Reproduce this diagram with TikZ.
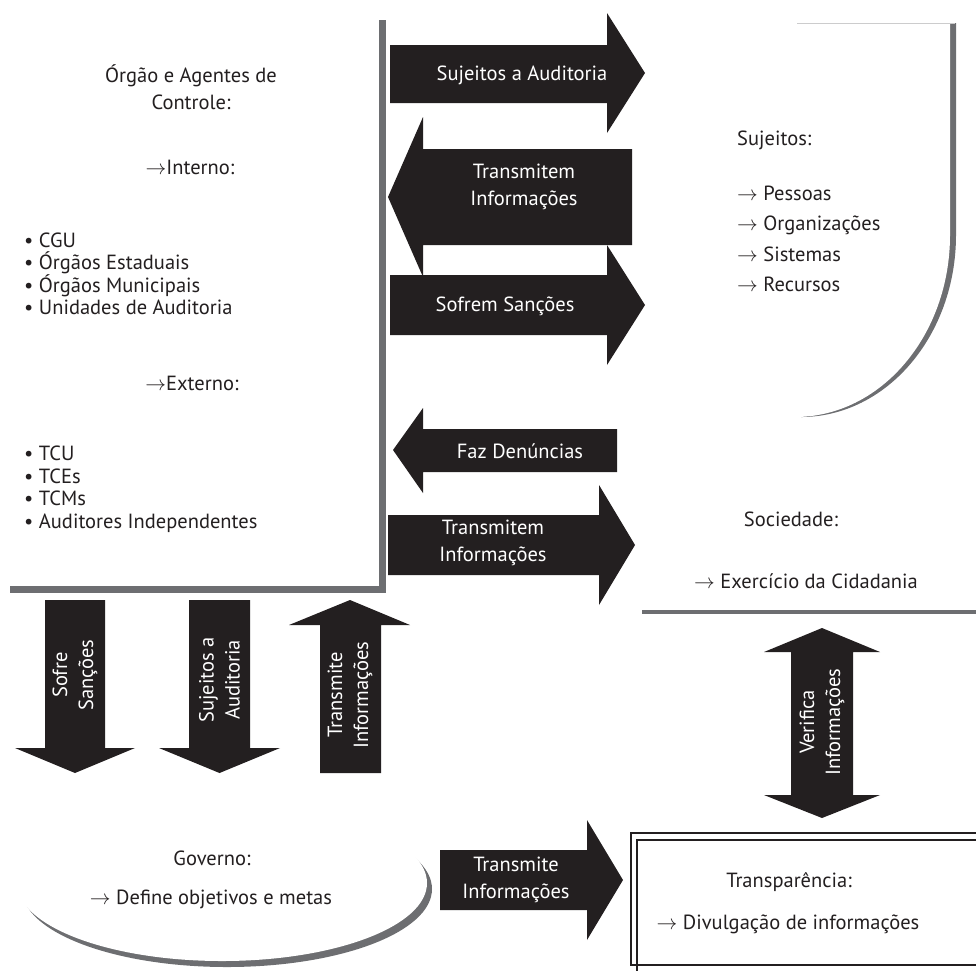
\documentclass[tikz,border=0pt]{standalone}
\usepackage{fontspec}
\setmainfont{PT Sans}
\definecolor{ink}{HTML}{231F20}
\definecolor{shadowgray}{HTML}{6D6E71}
\begin{document}
\begin{tikzpicture}[x=1pt,y=-1pt,
  blockarrow/.style={fill=ink,draw=none},
  arrowtext/.style={text=white,align=center,inner sep=0pt,
    font=\fontsize{20.5}{27}\selectfont},
  vtext/.style={arrowtext,rotate=90,font=\fontsize{20.5}{26}\selectfont},
  bodytext/.style={text=ink,inner sep=0pt,font=\fontsize{20.5}{22.5}\selectfont},
  shadowfill/.style={fill=shadowgray,draw=none}]
\useasboundingbox (0,0) rectangle (976,970);

% ---- control bodies box (white panel with offset shadow)
\fill[shadowfill] (10,20) rectangle (386,593);
\fill[white] (3,13) rectangle (379,586);
\node[bodytext,align=center,font=\fontsize{20.5}{27}\selectfont] (orgao) at (191,87) {Órgão e Agentes de\\Controle:};
\node[bodytext] (interno) at (190,167) {$\rightarrow$Interno:};
\node[bodytext,align=left,anchor=west] (listint) at (24,274) {• CGU\\• Órgãos Estaduais\\• Órgãos Municipais\\• Unidades de Auditoria};
\node[bodytext] (externo) at (192,383) {$\rightarrow$Externo:};
\node[bodytext,align=left,anchor=west] (listext) at (24,489) {• TCU\\• TCEs\\• TCMs\\• Auditores Independentes};

% ---- subjects panel (rounded lower right corner, shadow on the right)
\fill[shadowfill,xshift=6pt] (797,23) -- (950,23) -- (950,235)
  arc[start angle=0,end angle=90,x radius=155,y radius=182] -- (797,417) -- cycle;
\fill[white] (797,23) -- (950,23) -- (950,235)
  arc[start angle=0,end angle=90,x radius=155,y radius=182] -- (797,417) -- cycle;
\draw[shadowgray!35,line width=0.8] (797,23) -- (955,23);
\node[bodytext,anchor=west] (sujeitos) at (737,140) {Sujeitos:};
\node[bodytext,align=left,anchor=west,font=\fontsize{20.5}{30.5}\selectfont] (listsuj) at (737,239)
  {$\rightarrow$ Pessoas\\$\rightarrow$ Organizações\\$\rightarrow$ Sistemas\\$\rightarrow$ Recursos};

% ---- society
\node[bodytext] (sociedade) at (791,519) {Sociedade:};
\node[bodytext] (cidadania) at (806,581) {$\rightarrow$ Exercício da Cidadania};
\draw[shadowgray,line width=4] (642,612) -- (976,612);

% ---- government (ellipse with offset shadow)
\fill[shadowfill] (227,889) ellipse[x radius=205,y radius=78];
\fill[white] (222,883) ellipse[x radius=205,y radius=78];
\node[bodytext] (governo) at (212,858) {Governo:};
\node[bodytext] (metas) at (211,899) {$\rightarrow$ Define objetivos e metas};

% ---- transparency (double frame)
\draw[ink,line width=1.8] (990,833) -- (631,833) -- (631,965) -- (990,965);
\draw[ink,line width=1.2] (990,840) -- (637,840) -- (637,975);
\node[bodytext] (transp) at (789,882) {Transparência:};
\node[bodytext] (divulg) at (788,924) {$\rightarrow$ Divulgação de informações};

% ---- horizontal block arrows
\fill[blockarrow] (390,45) -- (607,45) -- (607,13) -- (645,73) -- (607,133) -- (607,103) -- (390,103) -- cycle;
\node[arrowtext] (a1) at (522,75) {Sujeitos a Auditoria};

\fill[blockarrow] (388,197) -- (423,117) -- (423,149) -- (632,149) -- (632,245) -- (423,245) -- (423,277) -- cycle;
\node[arrowtext] (a2) at (524,187) {Transmitem\\Informações};

\fill[blockarrow] (390,275) -- (607,275) -- (607,245) -- (645,305) -- (607,365) -- (607,335) -- (390,335) -- cycle;
\node[arrowtext] (a3) at (505,306) {Sofrem Sanções};

\fill[blockarrow] (393,450) -- (423,408) -- (423,429) -- (617,429) -- (617,472) -- (423,472) -- (423,493) -- cycle;
\node[arrowtext] (a4) at (520,451) {Faz Denúncias};

\fill[blockarrow] (388,515) -- (599,515) -- (599,485) -- (635,545) -- (599,605) -- (599,575) -- (388,575) -- cycle;
\node[arrowtext] (a5) at (493,543) {Transmitem\\Informações};

\fill[blockarrow] (440,850) -- (587,850) -- (587,820) -- (623,880) -- (587,940) -- (587,910) -- (440,910) -- cycle;
\node[arrowtext] (a6) at (516,880) {Transmite\\Informações};

% ---- vertical block arrows
\fill[blockarrow] (45,600) -- (105,600) -- (105,748) -- (135,748) -- (75,773) -- (15,748) -- (45,748) -- cycle;
\node[vtext] (v1) at (75,675) {Sofre\\Sanções};

\fill[blockarrow] (189,600) -- (250,600) -- (250,748) -- (280,748) -- (219.5,773) -- (159,748) -- (189,748) -- cycle;
\node[vtext] (v2) at (219.5,680) {Sujeitos a\\Auditoria};

\fill[blockarrow] (350,600) -- (410,625) -- (381,625) -- (381,773) -- (320,773) -- (320,625) -- (289,625) -- cycle;
\node[vtext] (v3) at (350,695) {Transmite\\Informações};

\fill[blockarrow] (822,628) -- (880,652) -- (853,652) -- (853,795) -- (880,795) -- (822,818)
  -- (764,795) -- (791,795) -- (791,652) -- (764,652) -- cycle;
\node[vtext] (v4) at (822,722) {Verifica\\Informações};
\end{tikzpicture}
\end{document}
